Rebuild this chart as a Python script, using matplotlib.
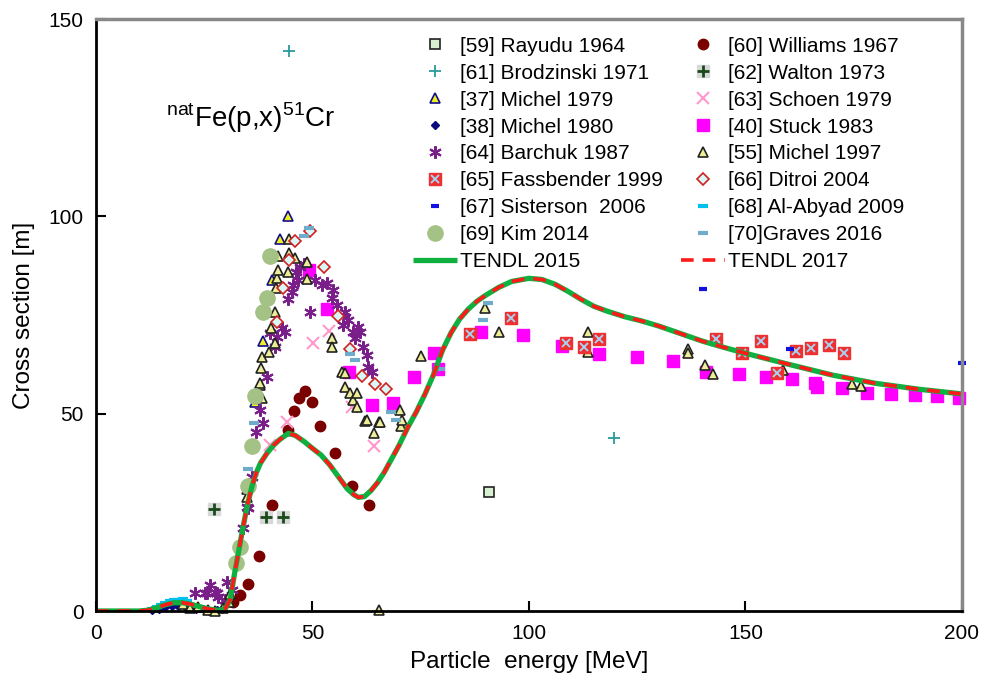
import matplotlib
matplotlib.use("Agg")
import matplotlib.pyplot as plt
from matplotlib.legend_handler import HandlerTuple

plt.rcParams['font.family'] = ['Liberation Sans', 'DejaVu Sans']
plt.rcParams['mathtext.fontset'] = 'custom'
plt.rcParams['mathtext.rm'] = 'Liberation Sans'

# ---- data (energy MeV, cross section mb) ----
tendl_e = [0, 10, 12, 14, 16, 18, 20, 22, 24, 26, 28, 29, 30, 31, 32, 33, 34, 35, 36, 37, 38,
           39.5, 41, 42.5, 44.4, 46, 48, 50, 52, 54, 56, 58, 59.5, 60.6, 62, 63.5, 65, 66.5, 68,
           70, 72, 74, 76, 78, 80, 82, 84, 86, 88, 90, 93, 96, 100, 103, 106, 109, 112, 115,
           118, 122, 126, 130, 135, 140, 145, 150, 160, 170, 180, 190, 200]
tendl_s = [0, 0, 0.2, 0.8, 1.6, 2.1, 2.1, 1.7, 1.1, 0.5, 0.2, 0.3, 0.8, 3, 9.5, 15.5, 21.5, 27,
           31.5, 35, 37.5, 40, 42, 43.5, 45, 44.5, 43, 41.2, 39.5, 37, 34, 31, 29.5, 28.8, 29,
           30.5, 32.5, 35, 38, 42, 46.5, 50.5, 55, 60, 66, 70.5, 74, 76.5, 78.5, 80, 82, 83.5,
           84.3, 84, 82.8, 81, 79, 77.2, 76, 74.6, 73.5, 72.2, 70.3, 68.4, 66.8, 65.3, 62.5,
           59.8, 57.7, 56.2, 55]

rayudu_e = [90.8]
rayudu_s = [30.1]

williams_e = [31.7, 33.3, 35.1, 37.6, 40.6, 44.4, 45.7, 46.9, 48.3, 49.8, 51.7, 55.2, 59.1, 63.0]
williams_s = [2.4, 4.1, 6.9, 13.9, 26.9, 45.9, 50.7, 53.9, 55.8, 52.9, 46.9, 40.0, 31.8, 26.9]

brodz_e = [44.6, 119.6]
brodz_s = [141.9, 43.8]

walton_e = [27.3, 39.3, 43.3]
walton_s = [25.8, 23.9, 23.9]

michel79_e = [36.7, 38.6, 40.6, 42.5, 44.4]
michel79_s = [53.0, 68.4, 83.9, 94.2, 100.1]

schoen_e = [40.2, 44.2, 50.2, 53.7, 59.1, 64.2]
schoen_s = [42.1, 48.0, 67.8, 70.9, 51.8, 41.9]

michel80_e = [13, 14.5, 16, 17.5, 19, 21, 23, 26, 28, 29]
michel80_s = [0.3, 0.6, 1.0, 1.3, 1.2, 0.8, 0.5, 0.1, 0.2, 0.5]

stuck_e = [49.3, 53.3, 58.5, 63.7, 68.7, 73.5, 78.1, 79.1, 88.9, 98.7, 107.7, 116.2, 124.9, 133.2,
           141.0, 148.6, 154.7, 160.7, 166.1, 166.6, 172.4, 178.0, 183.6, 189.1, 194.2, 199.4]
stuck_s = [86.4, 76.4, 60.6, 52.2, 52.6, 59.4, 65.3, 61.2, 70.6, 69.9, 67.1, 65.1, 64.3, 63.3,
           60.5, 60.0, 59.2, 58.7, 57.9, 56.7, 56.4, 55.2, 54.9, 54.7, 54.5, 54.0]

barchuk_e = [22.9, 25.2, 25.6, 26.3, 27.5, 27.9, 28.2, 29.8, 30.2, 31.3, 33.9, 34.8, 35.0, 36.1,
             37.0, 37.9, 38.6, 39.4, 40.2, 41.3, 41.9, 42.9, 43.6, 44.4, 45.2, 45.6, 46.3, 46.7,
             47.1, 48.0, 49.4, 50.6, 52.1, 53.3, 54.4, 54.8, 55.6, 57.1, 57.5, 58.3, 59.4, 59.8,
             60.6, 61.0, 61.7, 62.5, 62.9, 63.7]
barchuk_s = [4.5, 4.5, 4.5, 6.6, 4.9, 4.5, 3.6, 2.8, 7.4, 5.3, 21.0, 26.4, 26.0, 33.9,
             45.4, 50.9, 47.6, 59.4, 70.4, 67.0, 69.5, 71.6, 70.8, 79.0, 80.9, 82.6, 86.0, 83.9,
             87.2, 88.0, 75.8, 83.9, 82.6, 83.0, 79.2, 81.3, 77.5, 72.5, 75.8, 73.7, 70.8, 69.1,
             72.0, 70.8, 67.0, 64.9, 61.9, 60.6]

michel97_e = [20.2, 21.7, 23.6, 25.9, 27.5, 29.4, 30.6, 30.9, 34.8, 34.8, 37.9, 37.9, 38.1, 38.3,
              38.3, 40.0, 40.4, 41.3, 41.3, 41.6, 41.7, 42.0, 42.0, 44.4, 44.6, 44.6, 46.0, 48.8,
              48.8, 54.6, 54.6, 56.7, 57.5, 57.5, 58.7, 59.4, 60.2, 60.2, 62.1, 62.5, 64.3, 65.4,
              65.4, 65.6, 70.2, 70.4, 70.6, 75.0, 89.8, 93.1, 113.7, 113.7, 136.8, 136.8, 140.6,
              142.6, 158.7, 174.5, 176.8]
michel97_s = [1.9, 0.7, 1.1, 0.3, 0.0, 0.7, 2.4, 4.3, 29.0, 31.0, 57.3, 57.7, 61.5, 53.9,
              64.4, 65.7, 71.6, 75.8, 67.8, 81.8, 84.3, 89.9, 86.4, 85.8, 94.2, 90.6, 89.4, 88.4,
              84.1, 69.3, 67.0, 60.6, 60.4, 56.8, 55.3, 53.5, 55.3, 51.8, 48.1, 48.4, 45.2, 48.0,
              0.2, 48.0, 50.9, 46.9, 48.4, 64.6, 76.7, 70.6, 70.8, 65.7, 66.3, 65.3, 62.3,
              60.0, 61.1, 57.5, 57.1]

fass_e = [86.4, 95.8, 108.5, 112.8, 116.2, 143.3, 149.3, 153.7, 157.3, 161.7, 165.1, 169.4, 172.8]
fass_s = [70.2, 74.3, 68.0, 66.8, 69.0, 68.9, 65.5, 68.4, 60.2, 65.9, 66.7, 67.4, 65.5]

ditroi_e = [41.9, 43.3, 44.6, 45.9, 49.4, 52.7, 55.8, 58.7, 61.5, 64.4, 67.0]
ditroi_s = [73.3, 81.9, 88.9, 93.8, 96.3, 87.2, 74.8, 66.4, 59.6, 57.4, 56.2]

sist_e = [140.1, 160.3, 200]
sist_s = [81.6, 66.4, 62.8]

abyad_e = [13, 14, 15, 16, 17, 18, 19, 20, 21]
abyad_s = [0.5, 1.0, 1.5, 2.0, 2.5, 2.8, 2.9, 3.0, 2.5]

kim_e = [32.3, 33.3, 35.0, 36.0, 36.7, 38.6, 39.4, 40.2]
kim_s = [12.2, 16.3, 31.7, 41.9, 54.4, 75.8, 79.2, 90.0]

graves_e = [35.0, 36.5, 48.1, 49.3, 58.7, 59.8, 68.1, 69.4, 79.4, 89.4, 90.6]
graves_s = [36.1, 47.7, 95.0, 97.1, 65.0, 63.6, 50.5, 48.4, 61.3, 73.7, 78.1]

fig = plt.figure(figsize=(9.93, 6.82), dpi=100)
ax = fig.add_axes([0.0967, 0.1041, 0.872, 0.868])

kw = dict(linestyle='none', clip_on=False)
h = {}
h['ray'], = ax.plot(rayudu_e, rayudu_s, marker='s', ms=7, mfc='#d8f0d0', mec='#222222', mew=1.2, **kw)
h['wil'], = ax.plot(williams_e, williams_s, marker='o', ms=7.5, color='#7a0000', **kw)
h['bro'], = ax.plot(brodz_e, brodz_s, marker='+', ms=8, mew=1.3, color='#2a9a9a', **kw)
wbg, = ax.plot(walton_e, walton_s, marker='s', ms=8, color='#d8d8d8', **kw)
wpl, = ax.plot(walton_e, walton_s, marker='+', ms=8, mew=2, color='#1a4a1a', **kw)
h['wal'] = (wbg, wpl)
h['m79'], = ax.plot(michel79_e, michel79_s, marker='^', ms=7, mfc='#f4f020', mec='#10108a', mew=1.2, **kw)
h['sch'], = ax.plot(schoen_e, schoen_s, marker='x', ms=8, mew=1.5, color='#ff99cc', **kw)
h['m80'], = ax.plot(michel80_e, michel80_s, marker='D', ms=4.5, color='#0a0a80', **kw)
h['stu'], = ax.plot(stuck_e, stuck_s, marker='s', ms=8, color='#ff00ff', **kw)
h['bar'], = ax.plot(barchuk_e, barchuk_s, marker=(6, 2, 0), ms=9, mew=1.5, color='#7a1f8a', **kw)
h['m97'], = ax.plot(michel97_e, michel97_s, marker='^', ms=7, mfc='#eeee99', mec='#222222', mew=1.2, **kw)
fsq, = ax.plot(fass_e, fass_s, marker='s', ms=8, mfc='#ee3030', mec='#ee3030', **kw)
fx, = ax.plot(fass_e, fass_s, marker='x', ms=6, mew=1.4, color='#a8d0f0', **kw)
h['fas'] = (fsq, fx)
h['dit'], = ax.plot(ditroi_e, ditroi_s, marker='D', ms=6, mfc='#d8f8f8', mec='#d02020', mew=1.2, **kw)
h['sis'], = ax.plot(sist_e, sist_s, marker='_', ms=6, mew=3, color='#1010e0', **kw)
h['aby'], = ax.plot(abyad_e, abyad_s, marker='_', ms=7, mew=3, color='#00c0f0', **kw)
h['kim'], = ax.plot(kim_e, kim_s, marker='o', ms=11, color='#a4c285', **kw)
h['gra'], = ax.plot(graves_e, graves_s, marker='_', ms=7, mew=3, color='#6faccc', **kw)
h['t15'], = ax.plot(tendl_e, tendl_s, color='#10b040', lw=3.8, solid_capstyle='butt')
h['t17'], = ax.plot(tendl_e, tendl_s, color='#ff1a1a', lw=2.6, dashes=(3.5, 2.5))

# legend: row-wise order in the picture, matplotlib fills columns
keys = ['ray', 'wil', 'bro', 'wal', 'm79', 'sch', 'm80', 'stu', 'bar', 'm97',
        'fas', 'dit', 'sis', 'aby', 'kim', 'gra', 't15', 't17']
labels = ['[59] Rayudu 1964', '[60] Williams 1967', '[61] Brodzinski 1971', '[62] Walton 1973',
          '[37] Michel 1979', '[63] Schoen 1979', '[38] Michel 1980', '[40] Stuck 1983',
          '[64] Barchuk 1987', '[55] Michel 1997', '[65] Fassbender 1999', '[66] Ditroi 2004',
          '[67] Sisterson  2006', '[68] Al-Abyad 2009', '[69] Kim 2014', '[70]Graves 2016',
          'TENDL 2015', 'TENDL 2017']
handles = [h[k] for k in keys]
handles = handles[0::2] + handles[1::2]
labels = labels[0::2] + labels[1::2]
ax.legend(handles, labels, loc='upper left', bbox_to_anchor=(0.366, 0.97), ncol=2,
          frameon=False, fontsize=15, labelspacing=0.38, handlelength=2.1, handletextpad=0.15,
          columnspacing=0.9, borderaxespad=0, borderpad=0,
          handler_map={tuple: HandlerTuple(ndivide=1, pad=0)})

ax.text(0.081, 0.818, r'$^{\rm nat}$Fe(p,x)$^{51}$Cr', transform=ax.transAxes,
        fontsize=20, va='baseline', ha='left')

ax.set_xlim(0, 200)
ax.set_ylim(0, 150)
ax.set_xticks([0, 50, 100, 150, 200])
ax.set_yticks([0, 50, 100, 150])
ax.tick_params(direction='in', length=7, width=1.5, labelsize=15, pad=9)
ax.set_xlabel('Particle  energy [MeV]', fontsize=17.5, labelpad=6)
ax.set_ylabel('Cross section [m]', fontsize=17.5, labelpad=10)

for s in ['left', 'bottom']:
    ax.spines[s].set_linewidth(2)
    ax.spines[s].set_color('black')
for s in ['top', 'right']:
    ax.spines[s].set_linewidth(2.5)
    ax.spines[s].set_color('#888888')

fig.savefig('out.png', dpi=100)
